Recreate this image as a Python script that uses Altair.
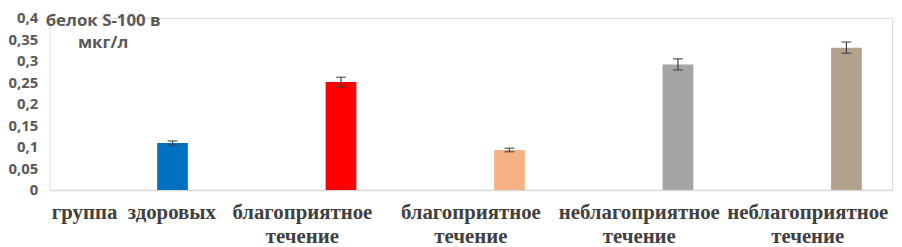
import altair as alt
import pandas as pd

ids = [0, 1, 2, 3, 4]
label_lines = [["группа\u00a0 здоровых"], ["благоприятное", "течение"], ["благоприятное", "течение"],
               ["неблагоприятное", "течение"], ["неблагоприятное", "течение"]]
values = [0.109, 0.251, 0.093, 0.292, 0.331]
errors = [0.005, 0.011, 0.004, 0.013, 0.013]
colors = ["#0070c0", "#ff0000", "#f4b183", "#a5a5a5", "#b3a28d"]
title_lines = ["белок S-100 в", "мкг/л"]
y_ticks = [0, 0.05, 0.1, 0.15, 0.2, 0.25, 0.3, 0.35, 0.4]

df = pd.DataFrame({"id": ids, "value": values, "err": errors, "color": colors})
df["lo"] = df["value"] - df["err"]
df["hi"] = df["value"] + df["err"]

label_js = "[" + ",".join("[" + ",".join("'" + s + "'" for s in l) + "]" for l in label_lines) + "]"

OFF = 39

x_axis = alt.Axis(labelExpr=label_js + "[datum.value]", labelAngle=0,
                  labelFont="Liberation Serif", labelFontSize=21, labelFontWeight="bold",
                  labelColor="#404040", labelLineHeight=24, labelPadding=12,
                  labelOverlap=False, labelBound=False,
                  ticks=False, domainColor="#d9d9d9", domainWidth=1.5, grid=False)
y_axis = alt.Axis(values=y_ticks,
                  labelExpr="replace(format(datum.value, '.2~f'), '.', ',')",
                  labelFont="Open Sans", labelFontSize=15, labelFontWeight="bold",
                  labelColor="#595959", labelPadding=12, labelOverlap=False,
                  labelBound=False, labelFlush=False,
                  ticks=False, domain=False, grid=False)
y_scale = alt.Scale(domain=[0, 0.4], nice=False)
x_scale = alt.Scale(paddingInner=0, paddingOuter=0)

def X():
    return alt.X("id:O", title=None, sort=ids, scale=x_scale, axis=x_axis)

def Y(field):
    return alt.Y(field, scale=y_scale, title=None, axis=y_axis)

bars = alt.Chart(df).mark_bar(size=31, xOffset=OFF).encode(
    x=X(), y=Y("value:Q"),
    color=alt.Color("color:N", scale=None),
)

rules = alt.Chart(df).mark_rule(color="#404040", strokeWidth=1.2, xOffset=OFF).encode(
    x=X(), y=Y("lo:Q"), y2="hi:Q")
cap_hi = alt.Chart(df).mark_tick(color="#404040", size=10, thickness=1.5, orient="horizontal", xOffset=OFF).encode(
    x=X(), y=Y("hi:Q"))
cap_lo = alt.Chart(df).mark_tick(color="#404040", size=10, thickness=1.5, orient="horizontal", xOffset=OFF).encode(
    x=X(), y=Y("lo:Q"))

title = alt.Chart(pd.DataFrame({"t": ["\n".join(title_lines)]})).mark_text(
    align="center", baseline="middle", font="Open Sans", fontSize=17, fontWeight="bold",
    color="#595959", lineBreak="\n", lineHeight=22
).encode(x=alt.value(54), y=alt.value(3), text="t:N")

chart = alt.layer(bars, rules, cap_hi, cap_lo, title).properties(
    width=850, height=173.5,
    autosize=alt.AutoSizeParams(type="none"),
    padding={"left": 42, "top": 9, "right": 2, "bottom": 57},
).configure_view(stroke=None).configure(background="white")

chart.save("out.html", embed_options={"renderer": "svg", "actions": False})
